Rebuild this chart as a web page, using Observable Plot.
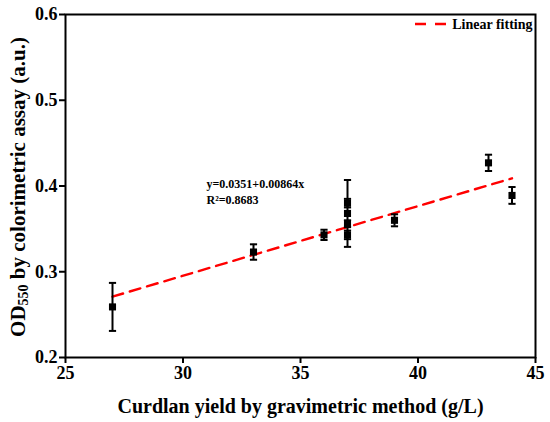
<!DOCTYPE html>
<html><head><meta charset="utf-8">
<script src="https://cdn.jsdelivr.net/npm/d3@7"></script>
<script src="https://cdn.jsdelivr.net/npm/@observablehq/plot@0.6"></script>
<style>
body{margin:0;background:#fff}
#chart{position:relative;width:550px;height:422px}
#chart svg text{font-weight:bold !important;fill:#000}
</style>
</head><body><div id="chart"></div>
<script>
const yieldGL = [27, 33, 36, 37, 37, 37, 37, 39, 43, 44];
const od550   = [0.259, 0.323, 0.343, 0.380, 0.368, 0.356, 0.343, 0.360, 0.427, 0.389];
const odErr   = [0.028, 0.009, 0.006, 0.005, 0.039, 0.004, 0.005, 0.007, 0.0095, 0.0098];
const fitX = [27, 44];
const fitY = [0.271, 0.409];
const xTicks = [25, 30, 35, 40, 45];
const yTicks = [0.2, 0.3, 0.4, 0.5, 0.6];
const equationText = "y=0.0351+0.00864x\nR\u00B2=0.8683";
const legendLabel = "Linear fitting";
const xLabel = "Curdlan yield by gravimetric method (g/L)";

const pts = yieldGL.map((x, i) => ({x, y: od550[i], e: odErr[i]}));
const fit = fitX.map((x, i) => ({x, y: fitY[i]}));
const FONT = "'Liberation Serif', 'Times New Roman', serif";

const cap = {draw(context) { const w = 3.6; context.moveTo(-w, 0); context.lineTo(w, 0); }};

const plot = Plot.plot({
  width: 550, height: 422,
  marginLeft: 65, marginRight: 15, marginTop: 14, marginBottom: 65,
  style: {fontFamily: FONT, fontSize: "17px", fontWeight: "bold", color: "black", background: "white"},
  x: {domain: [25, 45]},
  y: {domain: [0.2, 0.6]},
  marks: [
    Plot.line(fit, {x: "x", y: "y", stroke: "#ff0000", strokeWidth: 2.4, strokeDasharray: "11,7"}),
    Plot.ruleX(pts, {x: "x", y1: d => d.y - d.e, y2: d => d.y + d.e, stroke: "black", strokeWidth: 2}),
    Plot.dot(pts, {x: "x", y: d => d.y + d.e, symbol: cap, stroke: "black", strokeWidth: 2, r: 3}),
    Plot.dot(pts, {x: "x", y: d => d.y - d.e, symbol: cap, stroke: "black", strokeWidth: 2, r: 3}),
    Plot.dot(pts, {x: "x", y: "y", symbol: "square", fill: "black", r: 4}),
    Plot.axisX({ticks: xTicks, tickSize: 6, tickPadding: 3, strokeWidth: 2, label: null, fontSize: 18, fontWeight: "bold", fill: "black"}),
    Plot.axisY({ticks: yTicks, tickSize: 6, tickPadding: 2, strokeWidth: 2, label: null, tickFormat: d3.format(".1f"), fontSize: 18, fontWeight: "bold", fill: "black"}),
    Plot.frame({stroke: "black", strokeWidth: 2}),
    Plot.text([xLabel], {text: d => d, frameAnchor: "bottom", dy: 49, lineAnchor: "middle", fontSize: 20, fontWeight: "bold", fill: "black"}),
    Plot.text([equationText], {text: d => d, frameAnchor: "top-left", dx: 141, dy: 162, textAnchor: "start", lineAnchor: "top", lineHeight: 1.35, fontSize: 12, fontWeight: "bold", fill: "black"}),
    Plot.text([legendLabel], {text: d => d, frameAnchor: "top-right", dx: -3, dy: 10, textAnchor: "end", lineAnchor: "middle", fontSize: 14, fontWeight: "bold", fill: "black"})
  ]
});
document.getElementById("chart").appendChild(plot);

const svg = d3.select(plot);
svg.selectAll("text").style("font-weight", "bold").attr("fill", "black");
// legend swatch
svg.append("line").attr("x1", 415).attr("x2", 447).attr("y1", 24).attr("y2", 24)
  .attr("stroke", "#ff0000").attr("stroke-width", 2.4).attr("stroke-dasharray", "11,9");
// y-axis label with subscript
const yl = svg.append("text")
  .attr("transform", "translate(18,187) rotate(-90)")
  .attr("text-anchor", "middle").attr("dominant-baseline", "central")
  .style("font-family", FONT).style("font-size", "21px").style("font-weight", "bold").attr("fill", "black");
yl.append("tspan").text("OD");
yl.append("tspan").attr("dy", 5).style("font-size", "14px").text("550");
yl.append("tspan").attr("dy", -5).text(" by colorimetric assay (a.u.)");
</script>
</body></html>
